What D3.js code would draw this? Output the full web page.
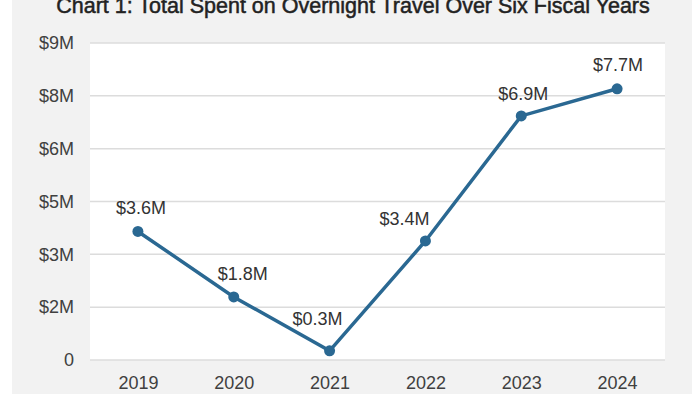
<html>
<head>
<script src="https://d3js.org/d3.v7.min.js"></script>
<style>
body { margin: 0; background: #fff; }
text { font-family: "Liberation Sans", Arial, sans-serif; }
</style>
</head>
<body>
<div id="chart"></div>
<script>
var width = 700, height = 394;

var years = ["2019", "2020", "2021", "2022", "2023", "2024"];
var spent = [3.65, 1.79, 0.26, 3.38, 6.93, 7.7];
var valueLabels = ["$3.6M", "$1.8M", "$0.3M", "$3.4M", "$6.9M", "$7.7M"];
var tickValues = [0, 1.5, 3, 4.5, 6, 7.5, 9];
var tickLabels = ["0", "$2M", "$3M", "$5M", "$6M", "$8M", "$9M"];

var plot = { left: 90, right: 665, top: 43, bottom: 360 };

var svg = d3.select("#chart").append("svg")
  .attr("width", width).attr("height", height);

// grey panel behind the plot
svg.append("rect")
  .attr("x", 12).attr("y", 0).attr("width", 680).attr("height", height)
  .style("fill", "#f2f2f2");

svg.append("rect")
  .attr("x", plot.left).attr("y", plot.top)
  .attr("width", plot.right - plot.left).attr("height", plot.bottom - plot.top)
  .style("fill", "#fff");

svg.append("text")
  .attr("x", 353).attr("y", 13)
  .attr("text-anchor", "middle")
  .style("font-size", "21.5px").style("fill", "#222")
  .style("stroke", "#222").style("stroke-width", 0.5)
  .text("Chart 1: Total Spent on Overnight Travel Over Six Fiscal Years");

var xScale = d3.scalePoint().domain(years)
  .range([plot.left, plot.right]).padding(0.5);

var yScale = d3.scaleLinear().domain([0, 9])
  .range([plot.bottom, plot.top]);

// gridlines
svg.append("g").selectAll("line").data(tickValues).enter().append("line")
  .attr("x1", plot.left).attr("x2", plot.right)
  .attr("y1", function(d) { return yScale(d); })
  .attr("y2", function(d) { return yScale(d); })
  .style("stroke", "#dcdcdc").style("stroke-width", 1.5);

var yAxis = d3.axisLeft(yScale).tickValues(tickValues).tickSize(0).tickPadding(0)
  .tickFormat(function(d, i) { return tickLabels[i]; });
var gy = svg.append("g").attr("transform", "translate(74,0)").call(yAxis);
gy.select(".domain").remove();
gy.selectAll("text").style("font-size", "18px").style("fill", "#404040")
  .style("font-family", "'Liberation Sans', Arial, sans-serif");

var xAxis = d3.axisBottom(xScale).tickSize(0).tickPadding(0);
var gx = svg.append("g").attr("transform", "translate(0,376)").call(xAxis);
gx.select(".domain").remove();
gx.selectAll("text").style("font-size", "18px").style("fill", "#404040")
  .style("font-family", "'Liberation Sans', Arial, sans-serif");

var line = d3.line()
  .x(function(d, i) { return xScale(years[i]); })
  .y(function(d) { return yScale(d); });

svg.append("path").datum(spent)
  .attr("d", line)
  .style("fill", "none").style("stroke", "#2a6892").style("stroke-width", 3.5);

svg.append("g").selectAll("circle").data(spent).enter().append("circle")
  .attr("cx", function(d, i) { return xScale(years[i]); })
  .attr("cy", function(d) { return yScale(d); })
  .attr("r", 5.5)
  .style("fill", "#2a6892");

// label nudges, as placed in the original
var labelDx = [3, 9, -12, -21, 2, 1];
var labelDy = [-17, -17, -26, -16, -16, -18];

svg.append("g").selectAll("text").data(spent).enter().append("text")
  .attr("x", function(d, i) { return xScale(years[i]) + labelDx[i]; })
  .attr("y", function(d, i) { return yScale(d) + labelDy[i]; })
  .attr("text-anchor", "middle")
  .style("font-size", "18px").style("fill", "#333")
  .text(function(d, i) { return valueLabels[i]; });
</script>
</body>
</html>
